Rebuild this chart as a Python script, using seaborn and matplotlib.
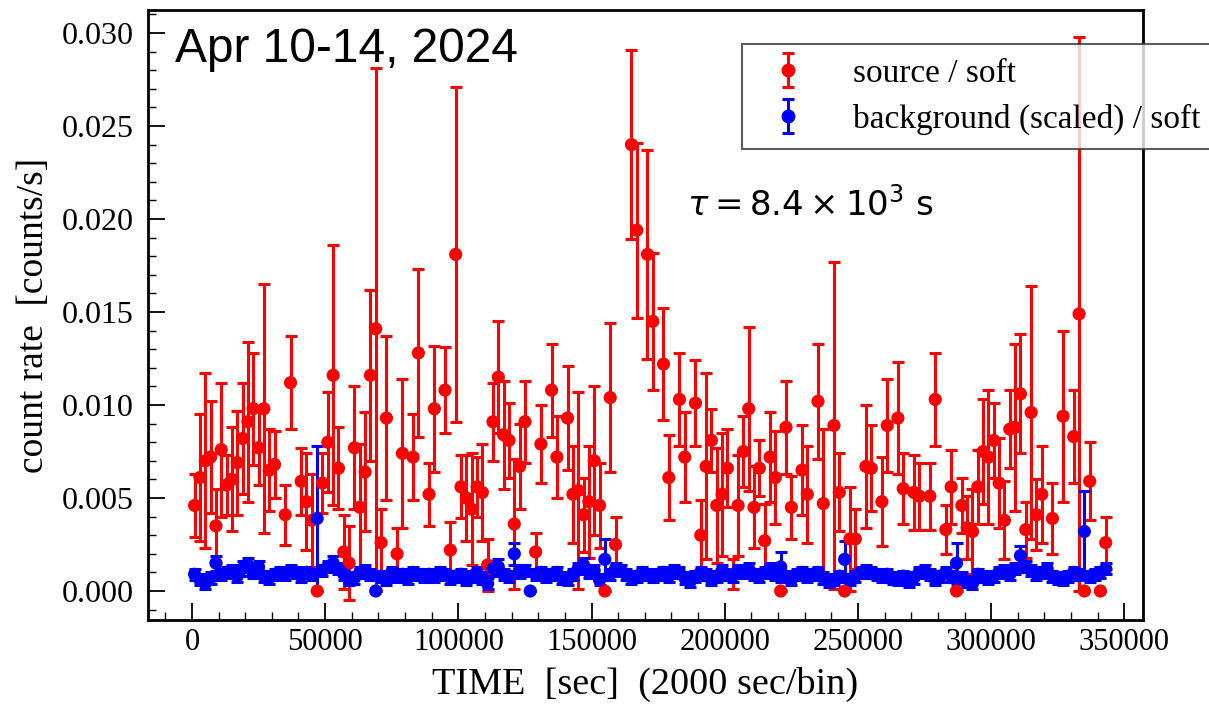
import numpy as np
import pandas as pd
import matplotlib
matplotlib.use("Agg")
import matplotlib.pyplot as plt
from matplotlib.ticker import MultipleLocator, FormatStrFormatter
import seaborn as sns

# ====================== DATA =======================
BIN_WIDTH = 2000  # sec/bin

# source / soft : bin index, count rate [counts/s], 1-sigma error
src_bin = [0, 1, 2, 3, 4, 5, 6, 7, 8, 9, 10, 11, 12, 13, 14, 15,
           17, 18, 20, 21, 22, 23, 24, 25, 26, 27, 28, 29, 30, 31, 32, 33, 34, 35, 36,
           38, 39, 41, 42, 44, 45, 47, 48, 49, 50, 51, 52, 53, 54, 55, 56, 57, 58, 59, 60, 61, 62,
           64, 65, 67, 68, 70, 71, 72, 73, 74, 75, 76, 77, 78, 79,
           82, 83, 85, 86, 88, 89, 91, 92, 94, 95, 96, 97, 98, 99, 100, 101, 102, 103, 104, 105,
           106, 107, 108, 109, 110, 111, 112,
           114, 115, 117, 118, 120, 121, 122, 123, 124, 126, 127, 129, 130, 132, 133, 135, 136, 138, 139,
           141, 142, 143, 144, 145, 146, 147, 148, 149, 150, 151, 152, 153, 154, 155, 156, 157, 158, 159,
           161, 163, 165, 166, 167, 168, 170, 171]
src_rate = [.0046, .0061, .0070, .0072, .0035, .0076, .0057, .0060, .0069, .0082, .0091, .0098, .0077, .0098, .0065, .0068,
            .0041, .0112, .0059, .0048, .0038, 0, .0058, .0080, .0116, .0066, .0021, .0015, .0077, .0045, .0064, .0116, .0141, .0026, .0093,
            .0020, .0074, .0072, .0128, .0052, .0098, .0108, .0022, .0181, .0056, .0050, .0044, .0056, .0053, .0014, .0091, .0115, .0084, .0081, .0036, .0067, .0091,
            .0021, .0079, .0108, .0072, .0093, .0052, .0054, .0041, .0048, .0070, .0046, 0, .0104, .0025,
            .0240, .0194, .0181, .0145, .0122, .0061, .0103, .0072, .0101, .0030, .0067, .0081, .0046, .0052, .0066, .0009, .0046, .0075, .0098, .0045,
            .0066, .0027, .0072, .0061, 0, .0088, .0045,
            .0065, .0052, .0102, .0047, .0089, .0053, 0, .0028, .0028, .0067, .0066, .0048, .0089, .0093, .0055, .0053, .0051, .0051, .0103,
            .0033, .0056, 0, .0046, .0034, .0032, .0056, .0075, .0072, .0081, .0058, .0038, .0087, .0088, .0106, .0033, .0096, .0041, .0052,
            .0039, .0094, .0083, .0149, 0, .0059, 0, .0026]
src_err = [.0017, .0034, .0047, .0030, .0020, .0036, .0016, .0028, .0028, .0030, .0043, .0030, .0020, .0067, .0022, .0018,
           .0016, .0025, .0018, .0026, .0025, 0, .0016, .0027, .0070, .0022, .0020, .0020, .0033, .0034, .0032, .0046, .0140, .0018, .0044,
           .0014, .0040, .0023, .0045, .0017, .0034, .0023, .0015, .0090, .0017, .0023, .0030, .0016, .0026, .0014, .0021, .0030, .0029, .0020, .0035, .0023, .0022,
           .0010, .0021, .0025, .0022, .0028, .0026, .0053, .0020, .0030, .0040, .0023, 0, .0040, .0015,
           .0051, .0047, .0056, .0037, .0030, .0023, .0025, .0024, .0023, .0019, .0050, .0017, .0031, .0033, .0021, .0008, .0027, .0019, .0044, .0022,
           .0015, .0020, .0024, .0025, 0, .0025, .0017,
           .0024, .0026, .0031, .0040, .0088, .0021, 0, .0028, .0016, .0033, .0023, .0024, .0025, .0030, .0019, .0020, .0018, .0018, .0025,
           .0013, .0020, 0, .0015, .0017, .0023, .0020, .0028, .0036, .0020, .0024, .0021, .0021, .0045, .0032, .0015, .0068, .0019, .0026,
           .0019, .0046, .0025, .0149, 0, .0021, 0, .0014]

# background (scaled) / soft : bins 0..171
bkg_bin = list(range(172))
bkg_rate = [.0009, .0006, .0004, .0007, .0015, .0009, .0010, .0011, .0008, .0012,
            .0014, .0010, .0013, .0008, .0007, .0009, .0010, .0009, .0011, .0010,
            .0008, .0010, .0009, .0039, .0011, .0013, .0015, .0012, .0009, .0006,
            .0007, .0010, .0011, .0009, 0, .0008, .0006, .0010, .0008, .0009,
            .0007, .0010, .0009, .0008, .0009, .0008, .0010, .0009, .0007, .0008,
            .0009, .0006, .0008, .0010, .0007, .0004, .0012, .0013, .0009, .0008,
            .0020, .0010, .0011, 0, .0009, .0010, .0008, .0009, .0010, .0007,
            .0006, .0009, .0012, .0014, .0010, .0011, .0006, .0017, .0009, .0012,
            .0011, .0009, .0007, .0008, .0010, .0009, .0008, .0009, .0010, .0008,
            .0011, .0010, .0007, .0005, .0008, .0010, .0009, .0006, .0008, .0011,
            .0009, .0008, .0011, .0010, .0012, .0009, .0008, .0010, .0012, .0009,
            .0013, .0008, .0006, .0009, .0010, .0008, .0009, .0010, .0007, .0005,
            .0006, .0008, .0017, .0006, .0008, .0010, .0011, .0010, .0009, .0008,
            .0009, .0007, .0006, .0008, .0005, .0007, .0010, .0011, .0009, .0006,
            .0008, .0010, .0008, .0015, .0007, .0005, .0004, .0009, .0008, .0007,
            .0008, .0010, .0011, .0009, .0012, .0019, .0013, .0011, .0009, .0010,
            .0012, .0008, .0007, .0006, .0008, .0010, .0009, .0032, .0008, .0009,
            .0010, .0012]
bkg_err = [.0003, .0003, .0003, .0003, .0004, .0003, .0003, .0003, .0003, .0004,
           .0004, .0003, .0003, .0003, .0003, .0003, .0003, .0003, .0003, .0003,
           .0003, .0003, .0003, .0039, .0003, .0003, .0004, .0003, .0003, .0003,
           .0003, .0003, .0003, .0003, 0, .0003, .0003, .0003, .0003, .0003,
           .0003, .0003, .0003, .0003, .0003, .0003, .0003, .0003, .0003, .0003,
           .0003, .0003, .0003, .0003, .0003, .0003, .0004, .0004, .0003, .0003,
           .0006, .0003, .0003, 0, .0003, .0003, .0003, .0003, .0003, .0003,
           .0003, .0003, .0003, .0004, .0003, .0003, .0003, .0011, .0003, .0003,
           .0003, .0003, .0003, .0003, .0003, .0003, .0003, .0003, .0003, .0003,
           .0003, .0003, .0003, .0003, .0003, .0003, .0003, .0003, .0003, .0003,
           .0003, .0003, .0003, .0003, .0003, .0003, .0003, .0003, .0003, .0003,
           .0008, .0003, .0003, .0003, .0003, .0003, .0003, .0003, .0003, .0003,
           .0003, .0003, .0010, .0003, .0003, .0003, .0003, .0003, .0003, .0003,
           .0003, .0003, .0003, .0003, .0003, .0003, .0003, .0003, .0003, .0003,
           .0003, .0003, .0003, .0011, .0003, .0003, .0003, .0003, .0003, .0003,
           .0003, .0003, .0003, .0003, .0003, .0005, .0003, .0003, .0003, .0003,
           .0003, .0003, .0003, .0003, .0003, .0003, .0003, .0022, .0003, .0003,
           .0003, .0003]

src = pd.DataFrame({"bin": src_bin, "rate": src_rate, "err": src_err})
bkg = pd.DataFrame({"bin": bkg_bin, "rate": bkg_rate, "err": bkg_err})
for d in (src, bkg):
    d["time"] = (d["bin"] + 0.5) * BIN_WIDTH

# ====================== STYLE =======================
sns.set_style("ticks")
plt.rcParams["font.family"] = ["Liberation Serif", "DejaVu Serif"]
plt.rcParams["mathtext.fontset"] = "dejavusans"
for key in ("text.color", "axes.labelcolor", "xtick.color", "ytick.color", "axes.edgecolor"):
    plt.rcParams[key] = "black"

fig = plt.figure(figsize=(12.09, 7.04), dpi=100)
ax = fig.add_axes([0.1224, 0.1193, 0.8230, 0.8665])

# ====================== PLOT =======================
series = [(src, "red", "source / soft"), (bkg, "blue", "background (scaled) / soft")]
handles = []
for d, col, lab in series:
    ax.errorbar(d["time"], d["rate"], yerr=d["err"], fmt="none", ecolor=col,
                elinewidth=2.2, capsize=4.2, capthick=2.2, zorder=2)
    sns.scatterplot(data=d, x="time", y="rate", color=col, s=90, edgecolor="none",
                    legend=False, ax=ax, zorder=3)
    # legend proxy with the errorbar look
    h = ax.errorbar([np.nan], [np.nan], yerr=[np.nan], fmt="o", color=col, ms=9,
                    elinewidth=2.2, capsize=4.2, capthick=2.2, label=lab)
    handles.append(h)

ax.set_xlim(-16500, 357000)
ax.set_ylim(-0.00156, 0.03124)

ax.xaxis.set_major_locator(MultipleLocator(50000))
ax.xaxis.set_minor_locator(MultipleLocator(10000))
ax.xaxis.set_major_formatter(FormatStrFormatter("%d"))
ax.yaxis.set_major_locator(MultipleLocator(0.005))
ax.yaxis.set_minor_locator(MultipleLocator(0.001))
ax.yaxis.set_major_formatter(FormatStrFormatter("%.3f"))

ax.tick_params(which="both", direction="in", top=False, right=False)
ax.tick_params(which="major", length=12, width=1.3)
ax.tick_params(which="minor", length=6, width=1.0)
ax.tick_params(axis="y", pad=10, labelsize=23)
ax.tick_params(axis="x", pad=6, labelsize=22)
for sp in ax.spines.values():
    sp.set_linewidth(2)
    sp.set_color("black")

ax.set_xlabel("TIME  [sec]  (2000 sec/bin)", fontsize=27.5, labelpad=7)
ax.set_ylabel("count rate  [counts/s]", fontsize=27, labelpad=8)

ax.text(0.027, 0.915, "Apr 10-14, 2024", transform=ax.transAxes, fontsize=34.5,
        family="Liberation Sans", va="baseline", ha="left", color="black")
ax.text(186000, 0.0202, r"$\tau = 8.4 \times 10^3$ s", fontsize=24.5,
        family="DejaVu Sans", va="baseline", ha="left", color="black")

leg = ax.legend(handles=handles, loc="upper left", bbox_to_anchor=(0.597, 0.944),
                fontsize=24, frameon=True, fancybox=False, framealpha=0.8,
                edgecolor="#333333", handlelength=1.9, handletextpad=1.0,
                borderpad=0.42, borderaxespad=0, labelspacing=0.45)
leg.get_frame().set_linewidth(1.5)

fig.savefig("out.png", dpi=100)
